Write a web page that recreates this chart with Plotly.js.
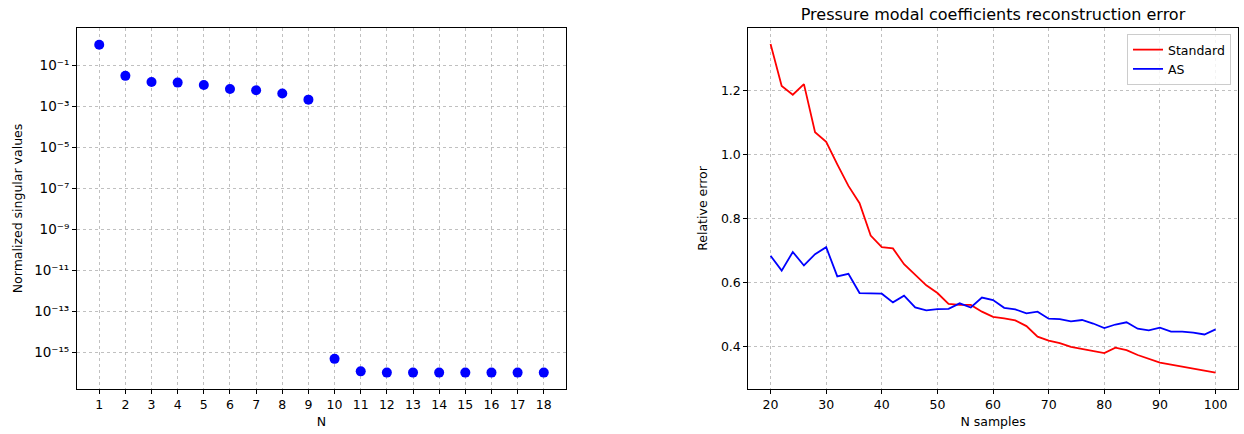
<!DOCTYPE html>
<html>
<head>
<meta charset="utf-8">
<script src="https://cdn.plot.ly/plotly-3.0.1.min.js"></script>
<style>html,body{margin:0;padding:0;background:#fff;}#chart{width:1244px;height:434px;}</style>
</head>
<body>
<div id="chart"></div>
<script>
// Left panel: normalized singular values
const modeIndex = [1,2,3,4,5,6,7,8,9,10,11,12,13,14,15,16,17,18];
const singularValues = [1.0, 0.0305, 0.0154, 0.0143, 0.0110, 0.0070, 0.0060, 0.0042, 0.0021,
  4.7e-16, 1.15e-16, 1.0e-16, 1.0e-16, 1.0e-16, 1.0e-16, 1.0e-16, 1.0e-16, 1.0e-16];
const logTickVals = [1e-1, 1e-3, 1e-5, 1e-7, 1e-9, 1e-11, 1e-13, 1e-15];
const logTickText = ['10⁻¹','10⁻³','10⁻⁵','10⁻⁷','10⁻⁹','10⁻¹¹','10⁻¹³','10⁻¹⁵'];

// Right panel: reconstruction error vs number of samples
const nSamples = [20,22,24,26,28,30,32,34,36,38,40,42,44,46,48,50,52,54,56,58,60,62,64,66,68,70,72,74,76,78,80,82,84,86,88,90,92,94,96,98,100];
const errStandard = [1.344,1.213,1.186,1.219,1.069,1.039,0.969,0.902,0.848,0.747,0.711,0.707,0.658,0.625,0.592,0.568,0.534,0.531,0.531,0.510,
  0.494,0.489,0.483,0.465,0.432,0.420,0.412,0.400,0.394,0.388,0.381,0.398,0.390,0.375,0.362,0.351,0.345,0.339,0.333,0.325,0.320];
const errAS = [0.684,0.638,0.696,0.654,0.689,0.711,0.620,0.628,0.568,0.568,0.566,0.539,0.560,0.523,0.514,0.518,0.519,0.536,0.523,0.554,
  0.546,0.522,0.517,0.505,0.510,0.488,0.487,0.480,0.484,0.473,0.459,0.470,0.477,0.457,0.452,0.460,0.448,0.448,0.445,0.439,0.455];
const linearTickVals = [0.4, 0.6, 0.8, 1.0, 1.2];
const sampleTickVals = [20,30,40,50,60,70,80,90,100];

const FONT = 'DejaVu Sans, sans-serif';
const FS = 12.5;
const gridStyle = {showgrid:true, gridcolor:'#b0b0b0', gridwidth:0.8, griddash:'3px,3px',
  showline:true, linecolor:'#000', linewidth:1, mirror:true, ticks:'outside', ticklen:4, tickwidth:1, tickcolor:'#000',
  zeroline:false, tickfont:{family:FONT, size:FS, color:'#000'}};

const traces = [
  {x: modeIndex, y: singularValues, type:'scatter', mode:'markers', xaxis:'x', yaxis:'y',
   marker:{color:'#0000ff', size:10}, showlegend:false},
  {x: nSamples, y: errStandard, type:'scatter', mode:'lines', xaxis:'x2', yaxis:'y2', name:'Standard',
   line:{color:'#ff0000', width:1.8}},
  {x: nSamples, y: errAS, type:'scatter', mode:'lines', xaxis:'x2', yaxis:'y2', name:'AS',
   line:{color:'#0000ff', width:1.8}}
];

const layout = {
  width:1244, height:434,
  margin:{l:0, r:0, t:0, b:0},
  paper_bgcolor:'#fff', plot_bgcolor:'#fff',
  font:{family:FONT, size:FS, color:'#000'},
  title:{text:'Pressure modal coefficients reconstruction error', font:{family:FONT, size:16, color:'#000'},
    x:993/1244, xanchor:'center', xref:'paper', y:1-14/434, yanchor:'middle', yref:'container'},
  xaxis: Object.assign({}, gridStyle, {domain:[77/1244, 566/1244], range:[0.15, 18.85], tickmode:'array', tickvals:modeIndex,
    title:{text:'N', font:{family:FONT, size:FS}, standoff:6}, anchor:'y'}),
  yaxis: Object.assign({}, gridStyle, {domain:[45/434, 406/434], type:'log', range:[-16.8, 0.82], tickmode:'array',
    tickvals:logTickVals, ticktext:logTickText, tickfont:{family:FONT, size:13.5, color:'#000'},
    title:{text:'Normalized singular values', font:{family:FONT, size:FS}, standoff:8}, anchor:'x'}),
  xaxis2: Object.assign({}, gridStyle, {domain:[748.3/1244, 1237.8/1244], range:[16, 104], tickmode:'array', tickvals:sampleTickVals,
    title:{text:'N samples', font:{family:FONT, size:FS}, standoff:6}, anchor:'y2'}),
  yaxis2: Object.assign({}, gridStyle, {domain:[45/434, 406/434], range:[0.269, 1.394], tickmode:'array', tickvals:linearTickVals,
    tickformat:'.1f', title:{text:'Relative error', font:{family:FONT, size:FS}, standoff:10}, anchor:'x2'}),
  legend:{x:1231/1244, xanchor:'right', y:1-34/434, yanchor:'top', bgcolor:'rgba(255,255,255,0.8)', bordercolor:'#cccccc', borderwidth:1,
    font:{family:FONT, size:FS}, tracegroupgap:0, itemwidth:30}
};

Plotly.newPlot('chart', traces, layout, {displayModeBar:false, staticPlot:true});
</script>
</body>
</html>
